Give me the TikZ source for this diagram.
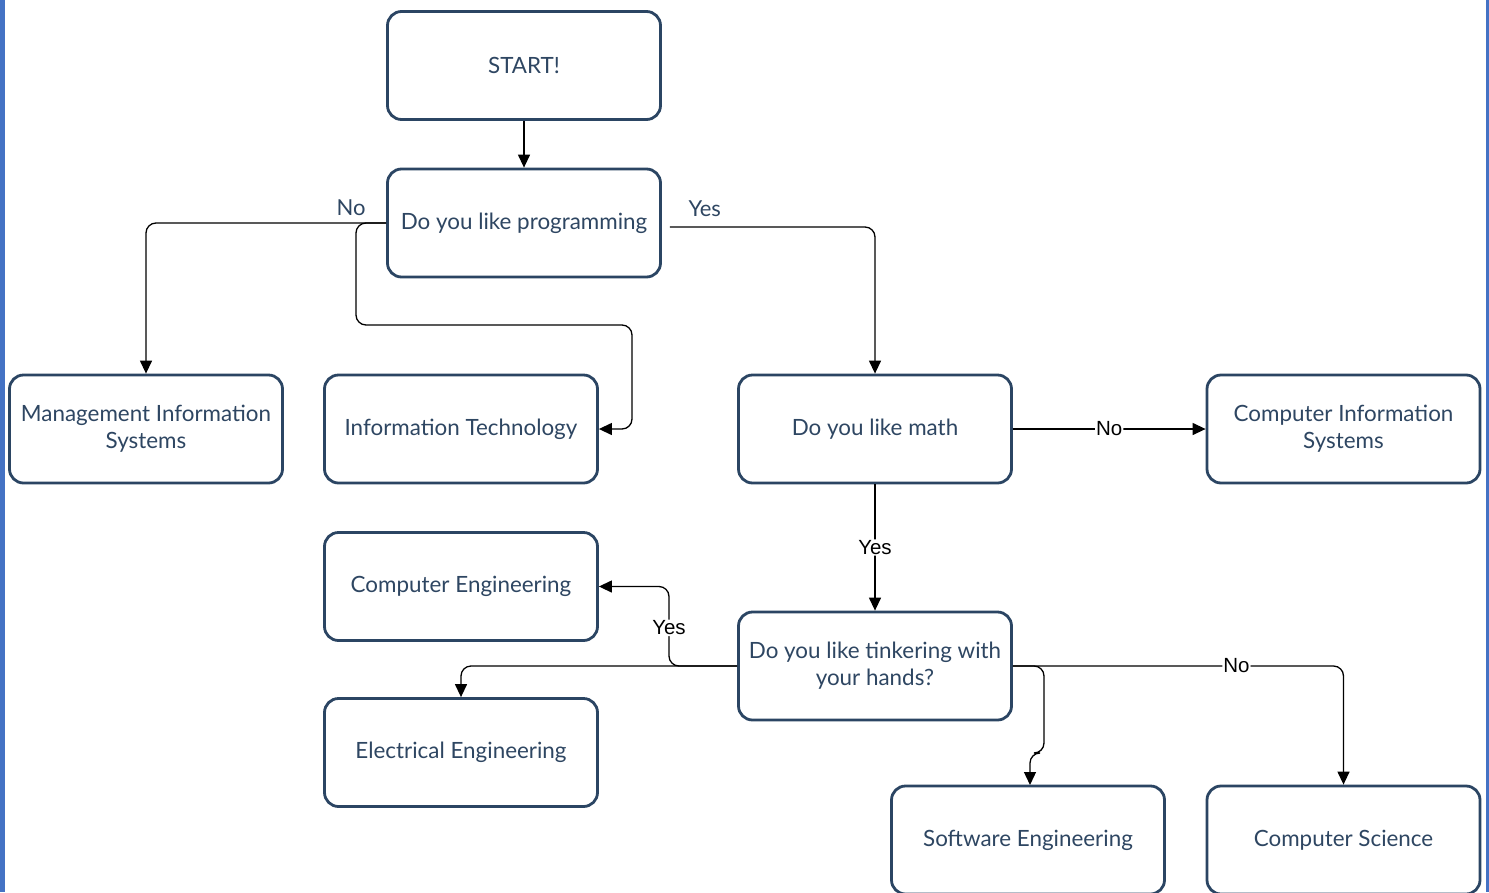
\documentclass[tikz,border=0pt]{standalone}
\usepackage{fontspec}
\setmainfont{Lato}
\newfontfamily\labelfont{Liberation Sans}
\usetikzlibrary{arrows.meta}
\definecolor{boxc}{HTML}{2B4563}
\definecolor{txtc}{HTML}{2E4662}
\definecolor{barc}{HTML}{4472C4}
\tikzset{
  box/.style={draw=boxc, line width=2.8pt, rounded corners=14pt,
    minimum width=273pt, minimum height=108pt, align=center, text=txtc,
    font=\fontsize{22.4}{27}\selectfont, inner sep=2pt},
  conn/.style={draw=black, line width=1.3pt, rounded corners=10pt,
    -{Triangle[length=13pt,width=12pt]}},
  lbl/.style={font=\fontsize{22}{26}\selectfont, text=txtc, inner sep=1pt},
  lblw/.style={font=\labelfont\fontsize{20.5}{24}\selectfont, text=black, inner sep=1pt, fill=white}
}
\begin{document}
\begin{tikzpicture}[x=1pt,y=-1pt]
\useasboundingbox (0,0) rectangle (1489,892);
\fill[white] (0,0) rectangle (1489,892);
\fill[barc] (0,0) rectangle (5,892);
\fill[barc] (1486,0) rectangle (1489,892);

\node[box] (start) at (524,65.5) {START!};
\node[box] (prog) at (524,223) {Do you like programming};
\node[box] (mis) at (146,429) {Management Information\\Systems};
\node[box] (it) at (461,429) {Information Technology};
\node[box] (math) at (875,429) {Do you like math};
\node[box] (cis) at (1343.5,429) {Computer Information\\Systems};
\node[box] (ce) at (461,586.5) {Computer Engineering};
\node[box] (tinker) at (875,666) {Do you like tinkering with\\your hands?};
\node[box] (ee) at (461,752.5) {Electrical Engineering};
\node[box] (se) at (1028,840) {Software Engineering};
\node[box] (cs) at (1343.5,840) {Computer Science};

\draw[conn] (start) -- (prog);
\draw[conn] (prog.west) -| node[lbl, pos=0.073, above=6pt] {No} (mis.north);
\draw[conn] (prog.west) -- (356,223) -- (356,325) -- (632,325) -- (632,429) -- (it.east);
\draw[conn] ([xshift=8pt,yshift=-4pt]prog.east) -| node[lbl, pos=0.085, above=9pt] {Yes} (math.north);
\draw[conn] (math.east) -- node[lblw] {No} (cis.west);
\draw[conn] (math.south) -- node[lblw] {Yes} (tinker.north);
\draw[conn] (tinker.west) -- (669,666) -- node[lblw, pos=0.48] {Yes} (669,586.5) -- (ce.east);
\draw[conn] (tinker.west) -| (ee.north);
\draw[conn] (tinker.east) -- (1044,666) -- (1044,753) -- (1030,753) -- (1030,785);
\draw[conn] (tinker.east) -| node[lblw, pos=0.338] {No} (cs.north);
\end{tikzpicture}
\end{document}
